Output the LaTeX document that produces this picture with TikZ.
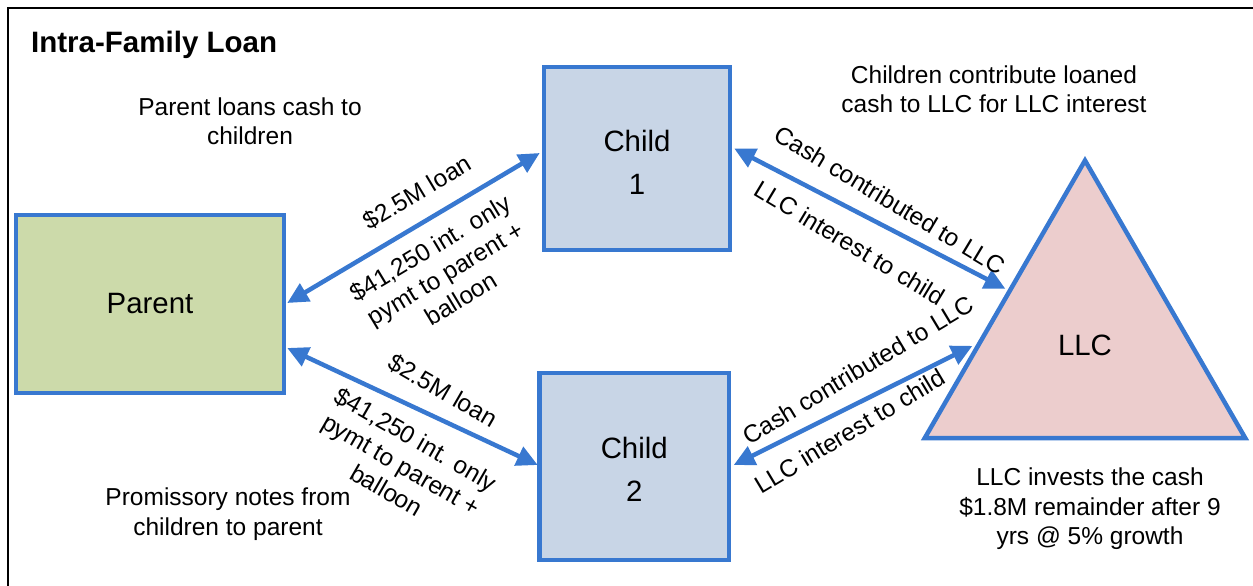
\documentclass[tikz,border=0pt]{standalone}
\usepackage{fontspec}
\setmainfont{Liberation Sans}
\usetikzlibrary{arrows.meta,calc,shapes.geometric}
\definecolor{lineblue}{RGB}{56,120,208}
\definecolor{parentfill}{RGB}{204,218,170}
\definecolor{childfill}{RGB}{200,213,230}
\definecolor{llcfill}{RGB}{236,205,205}
\begin{document}
\begin{tikzpicture}[x=1pt,y=-1pt,
  box/.style={draw=lineblue, line width=4.5pt, inner sep=0pt, align=center, font=\fontsize{29.4}{43}\selectfont},
  boxtext/.style={inner sep=0pt, align=center, font=\fontsize{29.4}{43}\selectfont},
  flow/.style={draw=lineblue, line width=4.5pt, {Triangle[length=21pt,width=20pt]}-{Triangle[length=21pt,width=20pt]}},
  lbl/.style={font=\fontsize{24.5}{29.5}\selectfont, align=center, inner sep=0pt},
]
\useasboundingbox (0,0) rectangle (1253,586);
\draw[line width=2pt] (8,586) -- (8,8) -- (1253,8);

\node[lbl, font=\bfseries\fontsize{29.5}{34}\selectfont, anchor=west] (title) at (31,45) {Intra-Family Loan};

\node[box, fill=parentfill, minimum width=268pt, minimum height=178pt] (parent) at (150,304) {Parent};
\node[box, fill=childfill, minimum width=186pt, minimum height=183pt] (child1) at (637,158.5) {};
\node[boxtext] (child1text) at ($(child1.center)+(0,3.5)$) {Child\\1};
\node[box, fill=childfill, minimum width=189.5pt, minimum height=187pt] (child2) at (634.25,466.5) {};
\node[boxtext] (child2text) at ($(child2.center)+(0,2.5)$) {Child\\2};
\node[draw=lineblue, line width=4.5pt, fill=llcfill, regular polygon, regular polygon sides=3, minimum size=370pt, inner sep=0pt, font=\fontsize{29.4}{35}\selectfont] (llc) at (1085,345.5) {LLC};

\draw[flow] ($(parent.east)+(1,-1)$) -- ($(child1.west)+(-2,-5.5)$);
\draw[flow] ($(parent.east)+(1,44)$) -- ($(child2.west)+(0.5,-1.5)$);
\draw[flow] ($(child1.east)+(2,-10)$) -- ($(llc.corner 1)!0.467!(llc.corner 2)+(-3,0)$);
\draw[flow] ($(child2.east)+(2.5,-1.5)$) -- ($(llc.corner 1)!0.668!(llc.corner 2)+(-3,0)$);

\node[lbl, rotate=31] (l1) at (417.5,192.5) {\$2.5M loan};
\node[lbl, rotate=31] (l2) at (445.5,273) {\$41,250 int. only\\pymt to parent +\\balloon};
\node[lbl, rotate=-30] (l3) at (443,391) {\$2.5M loan};
\node[lbl, rotate=-30] (l4) at (401.5,464.5) {\$41,250 int. only\\pymt to parent +\\balloon};
\node[lbl, rotate=-31] (l5) at (890,200) {Cash contributed to LLC};
\node[lbl, rotate=-31] (l6) at (850,243) {LLC interest to child};
\node[lbl, rotate=31] (l7) at (858,370) {Cash contributed to LLC};
\node[lbl, rotate=31] (l8) at (850,431) {LLC interest to child};

\node[lbl] (n1) at (250,121) {Parent loans cash to\\children};
\node[lbl] (n2) at (994,89) {Children contribute loaned\\cash to LLC for LLC interest};
\node[lbl] (n3) at (228,514) {Promissory notes from\\children to parent};
\node[lbl] (n4) at (1090,509) {LLC invests the cash\\\$1.8M remainder after 9\\yrs @ 5\% growth};
\end{tikzpicture}
\end{document}
